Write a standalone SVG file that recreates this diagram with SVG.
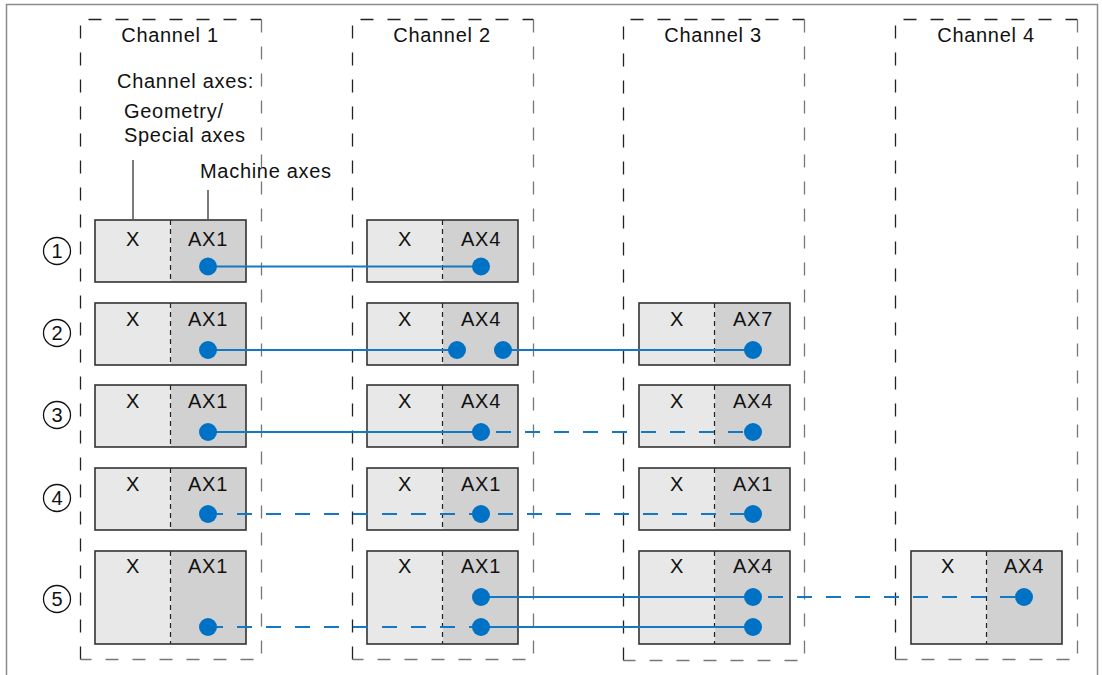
<svg xmlns="http://www.w3.org/2000/svg" width="1102" height="675" viewBox="0 0 1102 675">
<style>
text{font-family:"Liberation Sans",Arial,sans-serif;font-size:20px;letter-spacing:0.7px;fill:#111}
.mid{text-anchor:middle}
.n{font-size:20px;letter-spacing:0}
.chd{fill:none;stroke:#222;stroke-width:1.3;stroke-dasharray:13 14}
.chg{fill:none;stroke:#777;stroke-width:1.3;stroke-dasharray:13 14}
.l{fill:#e8e8e8}
.r{fill:#d1d1d1}
.bx{fill:none;stroke:#333;stroke-width:1.6}
.dv{stroke:#222;stroke-width:1.2;stroke-dasharray:5 4}
.num{fill:none;stroke:#111;stroke-width:1.3}
.ln{stroke:#1478c4;stroke-width:2;fill:none}
.dl{stroke:#1478c4;stroke-width:2;fill:none;stroke-dasharray:15 14}
.dot{fill:#0072c6}
.lead{stroke:#222;stroke-width:1.2}
</style>
<defs>
<g id="box">
<rect class="l" x="0" y="0" width="76" height="62"/>
<rect class="r" x="76" y="0" width="75" height="62"/>
<line class="dv" x1="75.5" y1="0" x2="75.5" y2="62"/>
<rect class="bx" x="0" y="0" width="151" height="62"/>
</g>
<g id="box5">
<rect class="l" x="0" y="0" width="76" height="93"/>
<rect class="r" x="76" y="0" width="75" height="93"/>
<line class="dv" x1="75.5" y1="0" x2="75.5" y2="93"/>
<rect class="bx" x="0" y="0" width="151" height="93"/>
</g>
</defs>
<rect width="1102" height="675" fill="#fff"/>
<path d="M6.5,680 V4.5 H1097.5 V680" fill="none" stroke="#8a8a8a" stroke-width="1.5"/>

<g id="channel1">
<path class="chd" d="M80.5,659.5 V19.5 H261.5"/>
<path class="chg" d="M261.5,19.5 V659.5 H80.5"/>
<text class="mid" x="170" y="42">Channel 1</text>
<text x="117" y="88">Channel axes:</text>
<text x="124" y="118">Geometry/</text>
<text x="124" y="142">Special axes</text>
<text x="200" y="178">Machine axes</text>
<line class="lead" x1="133" y1="160" x2="133" y2="219"/>
<line class="lead" x1="208" y1="190" x2="208" y2="219"/>
</g>
<g id="channel2">
<path class="chd" d="M352.5,659.5 V19.5 H533.5"/>
<path class="chg" d="M533.5,19.5 V659.5 H352.5"/>
<text class="mid" x="442" y="42">Channel 2</text>
</g>
<g id="channel3">
<path class="chd" d="M623.5,660.5 V19.5 H804.5"/>
<path class="chg" d="M804.5,19.5 V660.5 H623.5"/>
<text class="mid" x="713" y="42">Channel 3</text>
</g>
<g id="channel4">
<path class="chd" d="M895.5,659.5 V19.5 H1077.5"/>
<path class="chg" d="M1077.5,19.5 V659.5 H895.5"/>
<text class="mid" x="986" y="42">Channel 4</text>
</g>

<g id="row-numbers">
<circle class="num" cx="57" cy="251" r="13.5"/><text class="mid n" x="57" y="258">1</text>
<circle class="num" cx="57" cy="333" r="13.5"/><text class="mid n" x="57" y="340">2</text>
<circle class="num" cx="57" cy="415" r="13.5"/><text class="mid n" x="57" y="422">3</text>
<circle class="num" cx="57" cy="498" r="13.5"/><text class="mid n" x="57" y="505">4</text>
<circle class="num" cx="57" cy="599" r="13.5"/><text class="mid n" x="57" y="606">5</text>
</g>

<g id="row1-ch1"><use href="#box" x="95" y="220"/><text class="mid" x="133" y="246">X</text><text class="mid" x="208" y="246">AX1</text></g>
<g id="row1-ch2"><use href="#box" x="367" y="220"/><text class="mid" x="405" y="246">X</text><text class="mid" x="481" y="246">AX4</text></g>

<g id="row2-ch1"><use href="#box" x="95" y="303"/><text class="mid" x="133" y="326">X</text><text class="mid" x="208" y="326">AX1</text></g>
<g id="row2-ch2"><use href="#box" x="367" y="303"/><text class="mid" x="405" y="326">X</text><text class="mid" x="481" y="326">AX4</text></g>
<g id="row2-ch3"><use href="#box" x="639" y="303"/><text class="mid" x="677" y="326">X</text><text class="mid" x="753" y="326">AX7</text></g>

<g id="row3-ch1"><use href="#box" x="95" y="385"/><text class="mid" x="133" y="408">X</text><text class="mid" x="208" y="408">AX1</text></g>
<g id="row3-ch2"><use href="#box" x="367" y="385"/><text class="mid" x="405" y="408">X</text><text class="mid" x="481" y="408">AX4</text></g>
<g id="row3-ch3"><use href="#box" x="639" y="385"/><text class="mid" x="677" y="408">X</text><text class="mid" x="753" y="408">AX4</text></g>

<g id="row4-ch1"><use href="#box" x="95" y="468"/><text class="mid" x="133" y="491">X</text><text class="mid" x="208" y="491">AX1</text></g>
<g id="row4-ch2"><use href="#box" x="367" y="468"/><text class="mid" x="405" y="491">X</text><text class="mid" x="481" y="491">AX1</text></g>
<g id="row4-ch3"><use href="#box" x="639" y="468"/><text class="mid" x="677" y="491">X</text><text class="mid" x="753" y="491">AX1</text></g>

<g id="row5-ch1"><use href="#box5" x="95" y="551"/><text class="mid" x="133" y="573">X</text><text class="mid" x="208" y="573">AX1</text></g>
<g id="row5-ch2"><use href="#box5" x="367" y="551"/><text class="mid" x="405" y="573">X</text><text class="mid" x="481" y="573">AX1</text></g>
<g id="row5-ch3"><use href="#box5" x="639" y="551"/><text class="mid" x="677" y="573">X</text><text class="mid" x="753" y="573">AX4</text></g>
<g id="row5-ch4"><use href="#box5" x="911" y="551"/><text class="mid" x="948" y="573">X</text><text class="mid" x="1024" y="573">AX4</text></g>

<g id="connectors">
<line class="ln" x1="208" y1="266.5" x2="481" y2="266.5"/>
<line class="ln" x1="208" y1="350" x2="457" y2="350"/>
<line class="ln" x1="503" y1="350" x2="753" y2="350"/>
<line class="ln" x1="208" y1="432" x2="481" y2="432"/>
<line class="dl" x1="496" y1="432" x2="753" y2="432"/>
<line class="dl" x1="208" y1="514" x2="753" y2="514"/>
<line class="ln" x1="481" y1="597" x2="753" y2="597"/>
<line class="dl" x1="768" y1="597" x2="1024" y2="597"/>
<line class="dl" x1="208" y1="627" x2="481" y2="627"/>
<line class="ln" x1="481" y1="627" x2="753" y2="627"/>
<circle class="dot" cx="208" cy="266.5" r="9"/><circle class="dot" cx="481" cy="266.5" r="9"/>
<circle class="dot" cx="208" cy="350" r="9"/><circle class="dot" cx="457" cy="350" r="9"/><circle class="dot" cx="503" cy="350" r="9"/><circle class="dot" cx="753" cy="350" r="9"/>
<circle class="dot" cx="208" cy="432" r="9"/><circle class="dot" cx="481" cy="432" r="9"/><circle class="dot" cx="753" cy="432" r="9"/>
<circle class="dot" cx="208" cy="514" r="9"/><circle class="dot" cx="481" cy="514" r="9"/><circle class="dot" cx="753" cy="514" r="9"/>
<circle class="dot" cx="481" cy="597" r="9"/><circle class="dot" cx="753" cy="597" r="9"/><circle class="dot" cx="1024" cy="597" r="9"/>
<circle class="dot" cx="208" cy="627" r="9"/><circle class="dot" cx="481" cy="627" r="9"/><circle class="dot" cx="753" cy="627" r="9"/>
</g>
</svg>
